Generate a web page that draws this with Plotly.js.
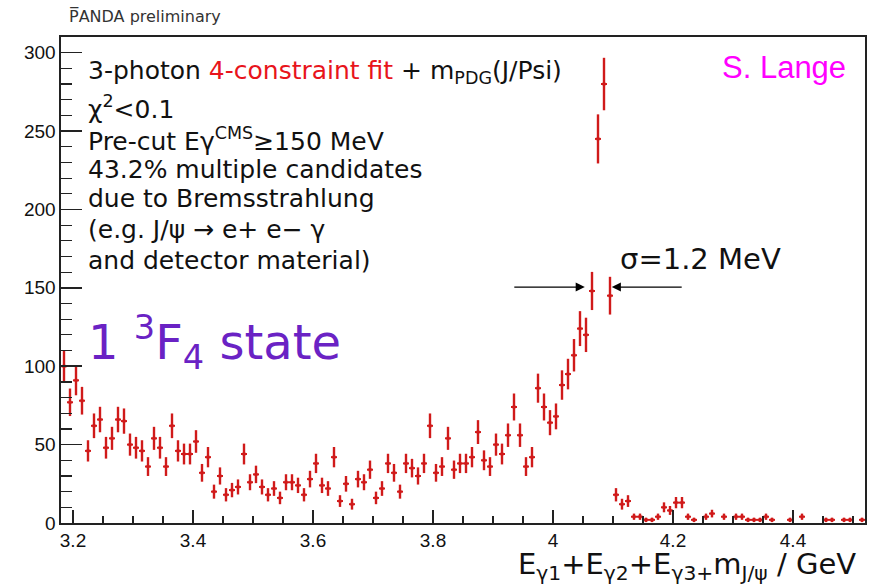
<!DOCTYPE html>
<html>
<head>
<meta charset="utf-8">
<script src="https://cdn.plot.ly/plotly-3.0.1.min.js"></script>
<style>html,body{margin:0;padding:0;background:#fff;}#chart{width:878px;height:585px;}</style>
</head>
<body>
<div id="chart"></div>
<script>
// Bin centres (GeV) and counts (empty bins omitted)
const binCenters = [
 3.185,3.195,3.205,3.215,3.225,3.235,3.245,3.255,3.265,3.275,
 3.285,3.295,3.305,3.315,3.325,3.335,3.345,3.355,3.365,3.375,
 3.385,3.395,3.405,3.415,3.425,3.435,3.445,3.455,3.465,3.475,
 3.485,3.495,3.505,3.515,3.525,3.535,3.545,3.555,3.565,3.575,
 3.585,3.595,3.605,3.615,3.625,3.635,3.645,3.655,3.665,3.675,
 3.685,3.695,3.705,3.715,3.725,3.735,3.745,3.755,3.765,3.775,
 3.785,3.795,3.805,3.815,3.825,3.835,3.845,3.855,3.865,3.875,
 3.885,3.895,3.905,3.915,3.925,3.935,3.945,3.955,3.965,3.975,
 3.985,3.995,4.005,4.015,4.025,4.035,4.045,4.055,4.065,4.075,
 4.085,4.095,4.105,4.115,4.125,4.135,4.145,4.155,4.165,4.175,
 4.185,4.195,4.205,4.215,4.225,4.235,4.255,4.265,4.285,4.305,
 4.315,4.325,4.335,4.345,4.355,4.365,4.395,4.415,4.455,4.465,
 4.485,4.495,4.515
];
const counts = [
 100,77,91,78,46,62,66,48,54,66,
 65,50,48,46,36,54,48,36,62,46,
 44,44,52,32,42,20,30,18,21,23,
 44,26,31,23,18,22,16,26,26,24,
 18,28,38,24,22,42,14,25,12,28,
 26,34,16,22,38,32,20,38,35,30,
 38,62,32,36,54,34,38,38,42,58,
 40,36,50,44,56,74,56,36,42,86,
 74,64,68,88,95,107,124,120,148,245,
 280,145,18,12,14,4,4,2,2,4,
 10,8,13,13,4,2,4,6,4,4,
 4,2,2,2,4,2,2,4,2,2,
 2,2,2
];
const halfBinWidth = 0.005;

const yTicks = [0,50,100,150,200,250,300];
const xTicks = [3.2,3.4,3.6,3.8,4.0,4.2,4.4];
const xTickLabels = ['3.2','3.4','3.6','3.8','4','4.2','4.4'];

const infoLines = [
 '3-photon <span style="color:#e8141c">4-constraint fit</span> + m<sub>PDG</sub>(J/Psi)',
 'χ<sup>2</sup><0.1',
 'Pre-cut Eγ<sup>CMS</sup>≥150 MeV',
 '43.2% multiple candidates',
 'due to Bremsstrahlung',
 '(e.g. J/ψ → e+ e− γ',
 'and detector material)'
];
const infoLineY = [0.928,0.854,0.790,0.728,0.667,0.603,0.541];

// pixel helpers for the plot area (l=61,r=865,t=37,b=523)
const PX = x => (x-61)/804;
const PY = y => (523-y)/486;

const red = '#d01a1a';
const trace = {
  type:'scatter', mode:'markers',
  x: binCenters, y: counts,
  marker:{size:3, color:red, symbol:'square'},
  error_y:{type:'sqrt', color:red, thickness:2.4, width:0},
  error_x:{type:'constant', value:halfBinWidth, color:red, thickness:2, width:0},
  hoverinfo:'skip', showlegend:false
};

const txtFont = 'DejaVu Sans, sans-serif';
const annotations = [];
infoLines.forEach((t,i)=>annotations.push({
  xref:'paper', yref:'paper', x:PX(86), y:infoLineY[i], xanchor:'left', yanchor:'middle',
  text:t, showarrow:false, font:{family:txtFont, size:25, color:'#111'}
}));
annotations.push({
  xref:'paper', yref:'paper', x:PX(86), y:PY(342), xanchor:'left', yanchor:'middle',
  text:'1 <sup>3</sup>F<sub>4</sub> state', showarrow:false,
  font:{family:txtFont, size:48, color:'#6a22c4'}
});
annotations.push({
  xref:'paper', yref:'paper', x:PX(848), y:PY(67), xanchor:'right', yanchor:'middle',
  text:'S. Lange', showarrow:false,
  font:{family:'Liberation Sans, Arial, sans-serif', size:31, color:'#ff00ff'}
});
annotations.push({
  xref:'paper', yref:'paper', x:PX(700), y:PY(259), xanchor:'center', yanchor:'middle',
  text:'σ=1.2 MeV', showarrow:false,
  font:{family:txtFont, size:29, color:'#111'}
});
// arrows marking the width
annotations.push({
  xref:'x', yref:'y', axref:'x', ayref:'y',
  x:4.053, y:150.5, ax:3.933, ay:150.5, text:'', showarrow:true,
  arrowhead:2, arrowsize:1.4, arrowwidth:1.3, arrowcolor:'#000'
});
annotations.push({
  xref:'x', yref:'y', axref:'x', ayref:'y',
  x:4.098, y:150.5, ax:4.217, ay:150.5, text:'', showarrow:true,
  arrowhead:2, arrowsize:1.4, arrowwidth:1.3, arrowcolor:'#000'
});
// x-axis title
annotations.push({
  xref:'paper', yref:'paper', x:PX(858), y:PY(566), xanchor:'right', yanchor:'middle',
  text:'E<sub>γ1</sub>+E<sub>γ2</sub>+E<sub>γ3+</sub>m<sub>J/ψ</sub> / GeV', showarrow:false,
  font:{family:txtFont, size:29, color:'#111'}
});
// header
annotations.push({
  xref:'paper', yref:'paper', x:PX(67), y:PY(17), xanchor:'left', yanchor:'middle',
  text:'P\u0305ANDA preliminary', showarrow:false,
  font:{family:txtFont, size:16, color:'#333'}
});

const layout = {
  width:878, height:585,
  margin:{l:61, r:13, t:37, b:62},
  paper_bgcolor:'#fff', plot_bgcolor:'#fff',
  showlegend:false,
  xaxis:{
    range:[3.18,4.52], tickvals:xTicks, ticktext:xTickLabels,
    ticks:'inside', ticklen:13, tickwidth:1.5, tickcolor:'#222',
    minor:{dtick:0.05, tick0:3.2, ticks:'inside', ticklen:7, tickwidth:1.2, tickcolor:'#222', showgrid:false},
    showline:true, linecolor:'#222', linewidth:1.6, mirror:true,
    showgrid:false, zeroline:false,
    tickfont:{family:'Liberation Sans, Arial, sans-serif', size:19, color:'#111'}
  },
  yaxis:{
    range:[0,310], tickvals:yTicks,
    ticks:'inside', ticklen:21, tickwidth:1.5, tickcolor:'#222',
    minor:{dtick:10, tick0:0, ticks:'inside', ticklen:11, tickwidth:1.2, tickcolor:'#222', showgrid:false},
    showline:true, linecolor:'#222', linewidth:1.6, mirror:true,
    showgrid:false, zeroline:false,
    tickfont:{family:'Liberation Sans, Arial, sans-serif', size:19, color:'#111'}
  },
  annotations:annotations
};

Plotly.newPlot('chart',[trace],layout,{displayModeBar:false, staticPlot:true});
</script>
</body>
</html>
